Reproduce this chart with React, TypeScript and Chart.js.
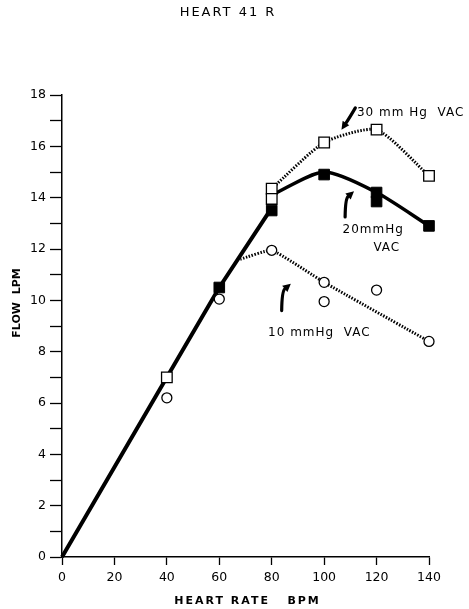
import React, { useEffect, useRef } from 'react';
import { Chart, registerables } from 'chart.js';

Chart.register(...registerables);

// ---- Data (heart rate in BPM, flow in LPM) ----
const baseRate = [0, 40, 60, 80];
const baseFlow = [0, 7.0, 10.5, 13.6];

const vac20Rate = [80, 100, 120, 140];
const vac20Flow = [14.1, 15.0, 14.2, 12.9];

const vac30Rate = [80, 100, 120, 140];
const vac30Flow = [14.35, 16.15, 16.65, 14.85];

const vac10Rate = [68, 80, 100, 140];
const vac10Flow = [11.6, 11.95, 10.7, 8.4];

const openSquareRate = [40, 80, 80, 100, 120, 140];
const openSquareFlow = [7.0, 14.35, 13.95, 16.15, 16.65, 14.85];

const filledSquareRate = [60, 80, 100, 120, 120, 140];
const filledSquareFlow = [10.5, 13.5, 14.9, 14.2, 13.85, 12.9];

const openCircleRate = [40, 60, 80, 100, 100, 120, 140];
const openCircleFlow = [6.2, 10.05, 11.95, 10.7, 9.95, 10.4, 8.4];

const chartTitle = 'HEART 41 R';
const xTitle = 'HEART RATE   BPM';
const yTitle = 'FLOW  LPM';

const noteTexts = ['30 mm Hg  VAC', '20mmHg', 'VAC', '10 mmHg  VAC'];
const noteX = [112.5, 118.7, 123.9, 78.6];
const noteY = [17.3, 12.74, 12.04, 8.73];
const noteAlign = ['left', 'center', 'center', 'left'];

// arrows: tail, control, head (data coordinates)
const arrowTailX = [111.9, 108.0, 83.8];
const arrowTailY = [17.5, 13.25, 9.6];
const arrowCtrlX = [109.6, 108.1, 83.9];
const arrowCtrlY = [17.1, 13.95, 10.35];
const arrowHeadX = [106.6, 111.4, 87.3];
const arrowHeadY = [16.65, 14.25, 10.65];

const pts = (xs: number[], ys: number[]) => xs.map((x, i) => ({ x, y: ys[i] }));

const FONT = "'DejaVu Sans', sans-serif";

const notesPlugin = {
  id: 'notes',
  afterDatasetsDraw(chart: any) {
    const { ctx, scales } = chart;
    const xs = scales.x;
    const ys = scales.y;
    ctx.save();
    ctx.fillStyle = '#000';
    ctx.strokeStyle = '#000';
    ctx.font = `12px ${FONT}`;
    (ctx as any).letterSpacing = '1px';
    ctx.textBaseline = 'middle';
    noteTexts.forEach((t, i) => {
      ctx.textAlign = noteAlign[i] as CanvasTextAlign;
      ctx.fillText(t, xs.getPixelForValue(noteX[i]), ys.getPixelForValue(noteY[i]));
    });
    arrowTailX.forEach((_, i) => {
      const tx = xs.getPixelForValue(arrowTailX[i]);
      const ty = ys.getPixelForValue(arrowTailY[i]);
      const cx = xs.getPixelForValue(arrowCtrlX[i]);
      const cy = ys.getPixelForValue(arrowCtrlY[i]);
      const hx = xs.getPixelForValue(arrowHeadX[i]);
      const hy = ys.getPixelForValue(arrowHeadY[i]);
      const ang = Math.atan2(hy - cy, hx - cx);
      const headLen = 8;
      const bx = hx - Math.cos(ang) * headLen;
      const by = hy - Math.sin(ang) * headLen;
      ctx.lineWidth = 3.2;
      ctx.lineCap = 'round';
      ctx.beginPath();
      ctx.moveTo(tx, ty);
      ctx.quadraticCurveTo(cx, cy, bx, by);
      ctx.stroke();
      const w = 4;
      ctx.beginPath();
      ctx.moveTo(hx, hy);
      ctx.lineTo(bx + Math.cos(ang + Math.PI / 2) * w, by + Math.sin(ang + Math.PI / 2) * w);
      ctx.lineTo(bx + Math.cos(ang - Math.PI / 2) * w, by + Math.sin(ang - Math.PI / 2) * w);
      ctx.closePath();
      ctx.fill();
    });
    ctx.restore();
  },
  afterDraw(chart: any) {
    const { ctx, chartArea } = chart;
    ctx.save();
    ctx.fillStyle = '#000';
    ctx.textBaseline = 'middle';
    ctx.textAlign = 'center';
    ctx.font = `13px ${FONT}`;
    (ctx as any).letterSpacing = '2px';
    ctx.fillText(chartTitle, 228, 13);
    ctx.font = `bold 11px ${FONT}`;
    (ctx as any).letterSpacing = '2px';
    ctx.fillText(xTitle, (chartArea.left + chartArea.right) / 2 + 2, 601);
    (ctx as any).letterSpacing = '0px';
    ctx.translate(17, 303);
    ctx.rotate(-Math.PI / 2);
    ctx.fillText(yTitle, 0, 0);
    ctx.restore();
  },
};

export default function App() {
  const ref = useRef<HTMLCanvasElement>(null);

  useEffect(() => {
    if (!ref.current) return;
    const lineBase = { pointRadius: 0, fill: false, borderColor: '#000', order: 2, clip: false };
    const chart = new Chart(ref.current, {
      type: 'line',
      data: {
        datasets: [
          {
            ...lineBase,
            label: 'baseline',
            data: pts(baseRate, baseFlow),
            borderWidth: 4,
            tension: 0,
          },
          {
            ...lineBase,
            label: '20 mmHg VAC',
            data: pts(vac20Rate, vac20Flow),
            borderWidth: 3.5,
            tension: 0.25,
          },
          {
            ...lineBase,
            label: '30 mmHg VAC',
            data: pts(vac30Rate, vac30Flow),
            borderWidth: 3,
            borderDash: [1.5, 1.5],
            tension: 0.2,
          },
          {
            ...lineBase,
            label: '10 mmHg VAC',
            data: pts(vac10Rate, vac10Flow),
            borderWidth: 3,
            borderDash: [1.5, 1.5],
            tension: 0.12,
          },
          {
            label: 'open circles',
            data: pts(openCircleRate, openCircleFlow),
            showLine: false,
            clip: false,
            pointStyle: 'circle',
            pointRadius: 5,
            pointBackgroundColor: '#fff',
            pointBorderColor: '#000',
            pointBorderWidth: 1.3,
            order: 1,
          },
          {
            label: 'filled squares',
            data: pts(filledSquareRate, filledSquareFlow),
            showLine: false,
            clip: false,
            pointStyle: 'rect',
            pointRadius: 7.5,
            pointBackgroundColor: '#000',
            pointBorderColor: '#000',
            pointBorderWidth: 1,
            order: 1,
          },
          {
            label: 'open squares',
            data: pts(openSquareRate, openSquareFlow),
            showLine: false,
            clip: false,
            pointStyle: 'rect',
            pointRadius: 7.5,
            pointBackgroundColor: '#fff',
            pointBorderColor: '#000',
            pointBorderWidth: 1.3,
            order: 0,
          },
        ],
      },
      options: {
        responsive: false,
        animation: false,
        events: [],
        layout: { padding: { top: 95, right: 40, left: 0, bottom: 0 } },
        plugins: {
          legend: { display: false },
          tooltip: { enabled: false },
          title: { display: false },
        },
        scales: {
          x: {
            type: 'linear',
            min: 0,
            max: 140,
            afterFit: (s: any) => { s.height = 52; },
            ticks: {
              stepSize: 20,
              color: '#000',
              font: { family: FONT, size: 12.5 },
              padding: 5,
              maxRotation: 0,
            },
            grid: {
              drawOnChartArea: false,
              drawTicks: true,
              tickLength: 8,
              tickColor: '#000',
              tickWidth: 1.3,
            },
            border: { display: true, color: '#000', width: 1.5 },
          },
          y: {
            type: 'linear',
            min: 0,
            max: 18,
            afterFit: (s: any) => { s.width = 62; },
            ticks: {
              stepSize: 1,
              color: '#000',
              font: { family: FONT, size: 12.5 },
              padding: 4,
              callback: (v: any) => (Number(v) % 2 === 0 ? String(v) : ''),
            },
            grid: {
              drawOnChartArea: false,
              drawTicks: true,
              tickLength: 12,
              tickColor: '#000',
              tickWidth: 1.3,
            },
            border: { display: true, color: '#000', width: 1.5 },
          },
        },
      },
      plugins: [notesPlugin],
    } as any);
    return () => chart.destroy();
  }, []);

  return (
    <div style={{ position: 'absolute', left: 0, top: 0, width: 469, height: 609, background: '#fff' }}>
      <canvas ref={ref} width={469} height={609} style={{ display: 'block', width: 469, height: 609 }} />
    </div>
  );
}
